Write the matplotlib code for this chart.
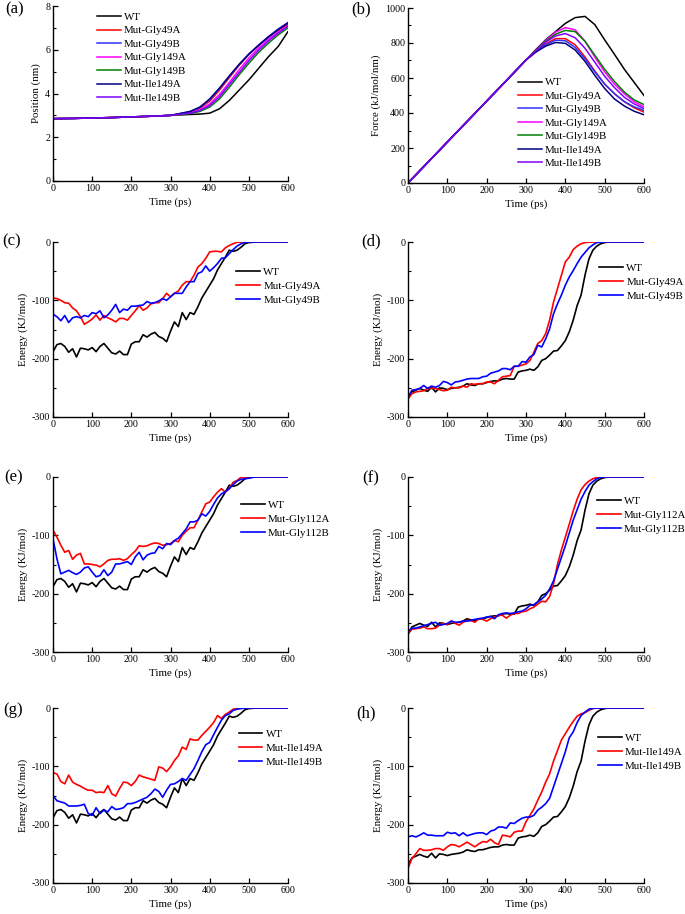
import numpy as np
import matplotlib
matplotlib.use("Agg")
import matplotlib.pyplot as plt
from matplotlib.ticker import MultipleLocator

plt.rcParams["font.family"] = ["Liberation Serif", "DejaVu Serif"]
plt.rcParams["axes.unicode_minus"] = False

# ---- panel (a)/(b): position and force, sampled every 50 ps then every 25 ps
pf_time = [0, 50, 100, 150, 200, 250, 300, 325, 350, 375, 400, 425, 450, 475, 500, 525, 550, 575, 600]
pf_labels = ["WT", "Mut-Gly49A", "Mut-Gly49B", "Mut-Gly149A", "Mut-Gly149B", "Mut-Ile149A", "Mut-Ile149B"]
pf_colors = ["black", "#ff0000", "#3030ff", "#ff00ff", "#008000", "#000080", "#8000ff"]

pos_wt = [2.85, 2.86, 2.88, 2.90, 2.93, 2.96, 3.00, 3.02, 3.04, 3.06, 3.10, 3.30, 3.68, 4.15, 4.62, 5.15, 5.68, 6.15, 6.83]
pos_gly49a = [2.85, 2.86, 2.88, 2.90, 2.93, 2.96, 3.00, 3.07, 3.15, 3.32, 3.65, 4.15, 4.72, 5.28, 5.78, 6.20, 6.58, 6.90, 7.15]
pos_gly49b = [2.85, 2.86, 2.88, 2.90, 2.93, 2.96, 3.00, 3.08, 3.17, 3.36, 3.72, 4.22, 4.78, 5.32, 5.80, 6.22, 6.60, 6.95, 7.25]
pos_gly149a = [2.85, 2.86, 2.88, 2.90, 2.93, 2.96, 3.00, 3.05, 3.12, 3.25, 3.52, 3.95, 4.50, 5.08, 5.62, 6.08, 6.48, 6.82, 7.10]
pos_gly149b = [2.85, 2.86, 2.88, 2.90, 2.93, 2.96, 3.00, 3.04, 3.08, 3.18, 3.38, 3.75, 4.28, 4.85, 5.38, 5.88, 6.30, 6.68, 7.00]
pos_ile149a = [2.85, 2.86, 2.88, 2.90, 2.93, 2.96, 3.00, 3.09, 3.18, 3.38, 3.75, 4.25, 4.80, 5.33, 5.80, 6.20, 6.58, 6.92, 7.22]
pos_ile149b = [2.85, 2.86, 2.88, 2.90, 2.93, 2.96, 3.00, 3.05, 3.10, 3.22, 3.45, 3.85, 4.40, 4.95, 5.50, 5.98, 6.40, 6.76, 7.08]

force_wt = [0, 117, 234, 351, 468, 585, 703, 762, 818, 865, 912, 945, 952, 905, 818, 735, 650, 575, 500]
force_gly49a = [0, 117, 234, 351, 468, 585, 703, 752, 795, 825, 825, 790, 720, 640, 565, 510, 465, 430, 405]
force_gly49b = [0, 117, 234, 351, 468, 585, 703, 750, 790, 816, 813, 775, 710, 635, 565, 510, 465, 435, 415]
force_gly149a = [0, 117, 234, 351, 468, 585, 703, 758, 815, 862, 888, 875, 810, 720, 635, 565, 510, 465, 435]
force_gly149b = [0, 117, 234, 351, 468, 585, 703, 757, 810, 850, 872, 865, 810, 730, 650, 580, 520, 475, 448]
force_ile149a = [0, 117, 234, 351, 468, 585, 703, 748, 782, 803, 798, 760, 695, 615, 540, 480, 440, 410, 390]
force_ile149b = [0, 117, 234, 351, 468, 585, 703, 755, 805, 840, 854, 830, 770, 690, 610, 545, 490, 452, 425]

# ---- energy panels (c)-(h), every 10 ps from 0 to 600
e_time = list(range(0, 601, 10))

wt_left = [-188, -176, -174, -179, -189, -183, -197, -182, -183, -185,
           -181, -188, -179, -174, -182, -190, -192, -187, -193, -193,
           -175, -171, -171, -159, -163, -158, -155, -162, -165, -171,
           -153, -137, -145, -121, -133, -121, -124, -111, -96, -85,
           -74, -63, -48, -37, -26, -14, -16, -14, -9, -3,
           -1, -0.5, 0, 0, 0, 0, 0, 0, 0, 0, 0]
wt_right = [-269, -257, -254, -251, -254, -256, -249, -257, -250, -251,
            -253, -251, -250, -249, -247, -243, -245, -246, -243, -243,
            -241, -239, -238, -238, -235, -234, -235, -235, -223, -221,
            -220, -218, -220, -214, -203, -200, -194, -187, -186, -178,
            -169, -154, -134, -109, -91, -57, -29, -14, -7, -3,
            -1, 0, 0, 0, 0, 0, 0, 0, 0, 0, 0]

c_gly49a = [-96, -97, -100, -104, -105, -113, -118, -128, -141, -137,
            -132, -125, -134, -126, -130, -133, -137, -131, -131, -134,
            -126, -118, -109, -117, -113, -106, -104, -104, -97, -88,
            -94, -88, -84, -74, -68, -68, -57, -43, -37, -28,
            -17, -16, -16, -17, -10, -6, -3, -0.5, 0, 0,
            0, 0, 0, 0, 0, 0, 0, 0, 0, 0, 0]
c_gly49b = [-124, -128, -135, -126, -138, -130, -128, -130, -126, -128,
            -121, -123, -118, -130, -125, -117, -107, -121, -115, -117,
            -110, -110, -109, -108, -102, -105, -104, -101, -97, -100,
            -94, -88, -88, -88, -77, -68, -68, -54, -51, -41,
            -50, -44, -37, -28, -27, -20, -13, -7, -3, -0.5,
            0, 0, 0, 0, 0, 0, 0, 0, 0, 0, 0]

d_gly49a = [-269, -260, -257, -256, -255, -251, -251, -251, -253, -255,
            -254, -249, -250, -250, -247, -249, -243, -244, -243, -243,
            -240, -240, -243, -237, -231, -230, -229, -213, -213, -211,
            -209, -203, -189, -174, -169, -157, -134, -103, -80, -57,
            -34, -26, -13, -7, -3, -1, -0.3, 0, 0, 0,
            0, 0, 0, 0, 0, 0, 0, 0, 0, 0, 0]
d_gly49b = [-266, -254, -253, -251, -246, -251, -247, -249, -246, -239,
            -241, -245, -240, -239, -237, -235, -234, -234, -234, -231,
            -230, -225, -223, -221, -217, -217, -219, -213, -213, -205,
            -206, -197, -193, -177, -180, -166, -149, -123, -106, -91,
            -74, -60, -49, -37, -26, -18, -10, -5, -1, -0.3,
            0, 0, 0, 0, 0, 0, 0, 0, 0, 0, 0]

e_gly112a = [-91, -103, -117, -129, -126, -141, -134, -131, -149, -149,
             -150, -151, -154, -149, -143, -141, -141, -140, -143, -140,
             -133, -127, -118, -119, -118, -115, -113, -114, -117, -116,
             -114, -109, -111, -100, -93, -87, -87, -74, -60, -46,
             -43, -34, -26, -20, -26, -20, -9, -6, -0.5, 0,
             0, 0, 0, 0, 0, 0, 0, 0, 0, 0, 0]
e_gly112b = [-106, -140, -166, -163, -160, -164, -167, -163, -156, -154,
             -163, -171, -169, -159, -169, -163, -149, -149, -147, -145,
             -150, -137, -129, -142, -134, -131, -130, -119, -123, -114,
             -116, -109, -105, -97, -89, -77, -77, -74, -63, -67,
             -59, -47, -36, -29, -25, -20, -13, -7, -4, -3,
             -2, -0.5, 0, 0, 0, 0, 0, 0, 0, 0, 0]

f_gly112a = [-269, -261, -260, -259, -257, -260, -260, -259, -254, -251,
             -253, -247, -251, -254, -249, -246, -246, -249, -243, -244,
             -247, -243, -240, -237, -237, -242, -237, -234, -234, -231,
             -230, -226, -223, -218, -213, -214, -205, -183, -150, -125,
             -103, -81, -58, -38, -22, -13, -7, -3, -1, 0,
             0, 0, 0, 0, 0, 0, 0, 0, 0, 0, 0]
f_gly112b = [-265, -259, -259, -257, -255, -253, -251, -249, -254, -253,
             -251, -247, -249, -249, -247, -247, -246, -244, -243, -242,
             -240, -239, -243, -236, -234, -233, -234, -233, -231, -230,
             -226, -220, -219, -214, -209, -203, -192, -178, -158, -138,
             -118, -96, -74, -56, -38, -25, -14, -8, -3, -0.5,
             0, 0, 0, 0, 0, 0, 0, 0, 0, 0, 0]

g_ile149a = [-111, -113, -126, -130, -115, -127, -131, -134, -138, -141,
             -141, -145, -144, -145, -133, -147, -151, -138, -127, -128,
             -133, -126, -115, -118, -120, -122, -124, -101, -103, -109,
             -101, -90, -82, -67, -71, -53, -55, -55, -47, -40,
             -33, -25, -13, -18, -11, -7, -2, -1, 0, 0,
             0, 0, 0, 0, 0, 0, 0, 0, 0, 0, 0]
g_ile149b = [-150, -159, -161, -163, -168, -168, -168, -167, -165, -181,
             -184, -171, -181, -175, -178, -169, -174, -173, -171, -164,
             -164, -162, -159, -156, -153, -147, -139, -143, -153, -141,
             -131, -130, -126, -121, -124, -114, -104, -90, -75, -63,
             -59, -46, -33, -21, -13, -10, -4, -2, -1, 0,
             0, 0, 0, 0, 0, 0, 0, 0, 0, 0, 0]

h_ile149a = [-275, -258, -250, -241, -244, -244, -243, -241, -241, -244,
             -238, -234, -235, -238, -234, -230, -234, -238, -233, -229,
             -230, -225, -231, -234, -218, -219, -221, -213, -211, -211,
             -195, -184, -173, -158, -144, -127, -113, -91, -73, -55,
             -44, -33, -23, -14, -10, -8, -4, -1, 0, 0,
             0, 0, 0, 0, 0, 0, 0, 0, 0, 0, 0]
h_ile149b = [-221, -219, -221, -218, -214, -218, -218, -219, -219, -219,
             -213, -215, -214, -219, -214, -219, -217, -215, -214, -214,
             -217, -211, -209, -204, -204, -206, -197, -198, -193, -189,
             -187, -187, -184, -175, -170, -164, -155, -135, -115, -95,
             -75, -51, -41, -25, -13, -7, -2, -0.5, 0, 0,
             0, 0, 0, 0, 0, 0, 0, 0, 0, 0, 0]

W, H = 685, 914
fig = plt.figure(figsize=(W / 100, H / 100), dpi=100)
FS = 7.8


def make_axes(left, top, right, bottom):
    return fig.add_axes([left / W, 1 - bottom / H, (right - left) / W, (bottom - top) / H])


def style(ax, ylim, ymajor, ylabel, tag, tag_x, tag_y):
    ax.set_xlim(0, 600)
    ax.set_ylim(*ylim)
    ax.xaxis.set_major_locator(MultipleLocator(100))
    ax.yaxis.set_major_locator(MultipleLocator(ymajor))
    ax.yaxis.set_minor_locator(MultipleLocator(ymajor / 2))
    ax.spines["top"].set_visible(False)
    ax.spines["right"].set_visible(False)
    for s in ("left", "bottom"):
        ax.spines[s].set_linewidth(1.0)
    ax.tick_params(direction="in", length=3.5, width=0.9, labelsize=7.2, pad=2)
    ax.tick_params(which="minor", direction="in", length=2, width=0.8)
    ax.tick_params(axis="x", which="minor", bottom=False)
    ax.set_xlabel("Time (ps)", fontsize=FS, labelpad=3)
    ax.set_ylabel(ylabel, fontsize=FS, labelpad=3)
    fig.text(tag_x / W, 1 - tag_y / H, tag, fontsize=12, ha="left", va="center")


def legend(ax, x, y, spacing):
    ax.legend(loc="center left", bbox_to_anchor=(x, y), frameon=False, fontsize=FS,
              handlelength=2.2, handletextpad=0.3, labelspacing=spacing, borderpad=0, borderaxespad=0)


# (a)
ax = make_axes(53, 6, 288, 181)
for ys, lab, col in zip([pos_wt, pos_gly49a, pos_gly49b, pos_gly149a, pos_gly149b, pos_ile149a, pos_ile149b],
                        pf_labels, pf_colors):
    ax.plot(pf_time, ys, color=col, lw=1.1, label=lab)
style(ax, (0, 8), 2, "Position (nm)", "(a)", 5, 9)
legend(ax, 0.187, 0.705, 0.36)

# (b)
ax = make_axes(408, 8, 644, 183)
for ys, lab, col in zip([force_wt, force_gly49a, force_gly49b, force_gly149a, force_gly149b, force_ile149a, force_ile149b],
                        pf_labels, pf_colors):
    ax.plot(pf_time, ys, color=col, lw=1.1, label=lab)
style(ax, (0, 1000), 200, "Force (kJ/mol/nm)", "(b)", 351, 9)
legend(ax, 0.466, 0.343, 0.36)

# (c)-(h)
energy_panels = [
    ("(c)", (53, 242, 288, 417), wt_left, c_gly49a, c_gly49b, "Mut-Gly49A", "Mut-Gly49B", (2, 241), (0.78, 0.749)),
    ("(d)", (408, 242, 644, 417), wt_right, d_gly49a, d_gly49b, "Mut-Gly49A", "Mut-Gly49B", (361, 241), (0.81, 0.771)),
    ("(e)", (53, 477, 288, 652), wt_left, e_gly112a, e_gly112b, "Mut-Gly112A", "Mut-Gly112B", (4, 477), (0.80, 0.76)),
    ("(f)", (408, 477, 644, 652), wt_right, f_gly112a, f_gly112b, "Mut-Gly112A", "Mut-Gly112B", (362, 478), (0.80, 0.783)),
    ("(g)", (53, 708, 288, 883), wt_left, g_ile149a, g_ile149b, "Mut-Ile149A", "Mut-Ile149B", (3, 710), (0.79, 0.771)),
    ("(h)", (408, 708, 644, 883), wt_right, h_ile149a, h_ile149b, "Mut-Ile149A", "Mut-Ile149B", (356, 713), (0.805, 0.749)),
]
for tag, box, wt, mut_a, mut_b, lab_a, lab_b, tag_xy, leg_xy in energy_panels:
    ax = make_axes(*box)
    ax.plot(e_time, wt, color="black", lw=1.2, label="WT")
    ax.plot(e_time, mut_a, color="#ff0000", lw=1.2, label=lab_a)
    ax.plot(e_time, mut_b, color="#0000ff", lw=1.2, label=lab_b)
    style(ax, (-300, 0), 100, "Energy (KJ/mol)", tag, *tag_xy)
    legend(ax, *leg_xy, 0.4)

fig.savefig("out.png", dpi=100)
